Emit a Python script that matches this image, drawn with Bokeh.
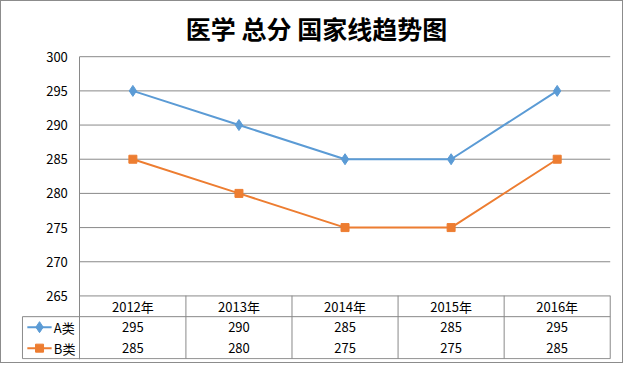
from bokeh.plotting import figure
from bokeh.models import Range1d, LinearAxis, FixedTicker, Title
from bokeh.core.properties import value
from bokeh.embed import file_html
from bokeh.resources import INLINE

title_text = "医学 总分 国家线趋势图"
years = ["2012年", "2013年", "2014年", "2015年", "2016年"]
series_names = ["A类", "B类"]
a_values = [295, 290, 285, 285, 295]
b_values = [285, 280, 275, 275, 285]
y_ticks = [265, 270, 275, 280, 285, 290, 295, 300]

BLUE = "#5B9BD5"
ORANGE = "#ED7D31"
GRID = "#898989"
FONT_NAME = "Noto Sans CJK SC"
FONT = value(FONT_NAME)

W, H = 623, 363
p = figure(width=W, height=H, output_backend="svg", toolbar_location=None,
           x_axis_type=None, y_axis_type=None,
           x_range=Range1d(-0.55, 5.012), y_range=Range1d(255.70, 301.2),
           min_border_left=20, min_border_right=13, min_border_top=47, min_border_bottom=5)
p.outline_line_color = None
p.background_fill_color = "white"
p.border_fill_color = "white"
p.styles = {"border": "1px solid #8c8c8c"}

# table uses row units
p.extra_y_ranges = {"tbl": Range1d(-0.04, 311 / 21 - 0.04)}

p.title = Title(text=title_text, align="center", text_font=FONT_NAME,
                text_font_size="25px", text_font_style="bold", text_color="black",
                vertical_align="top", standoff=2)

yaxis = LinearAxis(ticker=FixedTicker(ticks=y_ticks), fixed_location=0,
                   bounds=(255.7, 300),
                   axis_line_color=GRID, axis_line_width=1,
                   major_tick_line_color=None, minor_tick_line_color=None,
                   major_label_standoff=6, major_label_text_font=FONT_NAME,
                   major_label_text_font_size="13px", major_label_text_color="black")
p.add_layout(yaxis, "left")

ncat = len(years)
xs = [i + 0.5 for i in range(ncat)]

# horizontal gridlines
p.segment(x0=[0] * len(y_ticks), y0=y_ticks, x1=[ncat] * len(y_ticks), y1=y_ticks,
          line_color=GRID, line_width=1)

# table lines
key_left = -0.541
p.segment(x0=[key_left, key_left], y0=[2, 0], x1=[ncat, ncat], y1=[2, 0],
          line_color=GRID, line_width=1, y_range_name="tbl")
vx = list(range(1, ncat + 1))
p.segment(x0=vx, y0=[0] * len(vx), x1=vx, y1=[3] * len(vx),
          line_color=GRID, line_width=1, y_range_name="tbl")
p.segment(x0=[key_left], y0=[0], x1=[key_left], y1=[2],
          line_color=GRID, line_width=1, y_range_name="tbl")

# series
p.line(xs, a_values, line_color=BLUE, line_width=2)
p.scatter(xs, a_values, marker="diamond", size=11, fill_color=BLUE, line_color=BLUE)
p.line(xs, b_values, line_color=ORANGE, line_width=2)
p.scatter(xs, b_values, marker="square", size=8, fill_color=ORANGE, line_color=ORANGE)

# table text
p.text(x=xs, y=[2.5] * ncat, text=years, y_range_name="tbl", text_align="center",
       text_baseline="middle", text_font=FONT, text_font_size="13px", text_color="black")
p.text(x=xs, y=[1.5] * ncat, text=[str(v) for v in a_values], y_range_name="tbl",
       text_align="center", text_baseline="middle", text_font=FONT,
       text_font_size="13px", text_color="black")
p.text(x=xs, y=[0.5] * ncat, text=[str(v) for v in b_values], y_range_name="tbl",
       text_align="center", text_baseline="middle", text_font=FONT,
       text_font_size="13px", text_color="black")

# legend keys in table
p.segment(x0=[-0.495], y0=[1.5], x1=[-0.266], y1=[1.5], line_color=BLUE, line_width=2,
          y_range_name="tbl")
p.scatter([-0.38], [1.5], marker="diamond", size=11, fill_color=BLUE, line_color=BLUE,
          y_range_name="tbl")
p.segment(x0=[-0.495], y0=[0.5], x1=[-0.266], y1=[0.5], line_color=ORANGE, line_width=2,
          y_range_name="tbl")
p.scatter([-0.38], [0.5], marker="square", size=8, fill_color=ORANGE, line_color=ORANGE,
          y_range_name="tbl")
p.text(x=[-0.245, -0.245], y=[1.5, 0.5], text=series_names, y_range_name="tbl",
       text_align="left", text_baseline="middle", text_font=FONT,
       text_font_size="13px", text_color="black")

open("out.html", "w").write(file_html(p, INLINE))
